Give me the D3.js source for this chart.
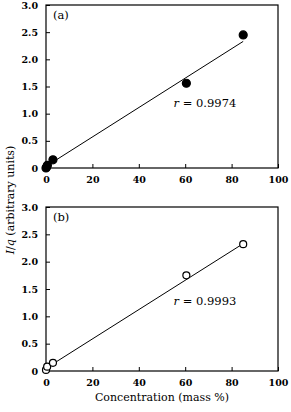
<!DOCTYPE html>
<html>
<head>
<meta charset="utf-8">
<script src="https://cdn.jsdelivr.net/npm/d3@7"></script>
<style>
  body { margin: 0; background: #fff; }
  svg text { font-family: "DejaVu Serif", serif !important; }
</style>
</head>
<body>
<script>
// panel (a) measured points and fit
const concA = [0, 0.3, 0.6, 3, 60.5, 85];
const signalA = [0, 0.02, 0.05, 0.15, 1.56, 2.45];
const fitA = [[0, 0.03], [85, 2.33]];

// panel (b)
const concB = [0, 0.5, 3, 60.5, 85];
const signalB = [0.02, 0.08, 0.15, 1.75, 2.32];
const fitB = [[0, 0.05], [85, 2.33]];

const xTicks = [0, 20, 40, 60, 80, 100];
const yTicks = [0, 0.5, 1.0, 1.5, 2.0, 2.5, 3.0];

const width = 291, height = 412;
const svg = d3.select("body").append("svg")
    .attr("width", width)
    .attr("height", height);

const panels = [
    {label: "(a)", x: concA, y: signalA, fit: fitA, r: "0.9974", top: 5, bottom: 168, filled: true},
    {label: "(b)", x: concB, y: signalB, fit: fitB, r: "0.9993", top: 207, bottom: 371, filled: false}
];

panels.forEach(function(p) {
    const x = d3.scaleLinear().domain([0, 100]).range([46, 278]);
    const y = d3.scaleLinear().domain([0, 3]).range([p.bottom, p.top]);
    const g = svg.append("g");

    // frame
    g.append("rect")
        .attr("x", x(0)).attr("y", y(3))
        .attr("width", x(100) - x(0)).attr("height", y(0) - y(3))
        .attr("fill", "none").attr("stroke", "#000").attr("stroke-width", 1.2);

    const xAxis = g.append("g")
        .attr("transform", "translate(0," + y(0) + ")")
        .call(d3.axisBottom(x).tickValues(xTicks).tickSizeInner(-4).tickSizeOuter(0).tickPadding(8).tickFormat(d3.format("d")));
    const yAxis = g.append("g")
        .attr("transform", "translate(" + x(0) + ",0)")
        .call(d3.axisLeft(y).tickValues(yTicks).tickSizeInner(-4).tickSizeOuter(0).tickPadding(8)
            .tickFormat(d => d === 0 ? "0" : d3.format(".1f")(d)));
    [xAxis, yAxis].forEach(a => {
        a.attr("font-family", null);
        a.select(".domain").remove();
        a.selectAll("line").attr("stroke", "#000");
        a.selectAll("text")
            .attr("font-weight", "bold")
            .attr("font-size", 9.5)
            .attr("fill", "#000");
    });

    // fit line
    g.append("line")
        .attr("x1", x(p.fit[0][0])).attr("y1", y(p.fit[0][1]))
        .attr("x2", x(p.fit[1][0])).attr("y2", y(p.fit[1][1]))
        .attr("stroke", "#000").attr("stroke-width", 1);

    g.selectAll("circle.pt")
        .data(p.x.map((v, i) => [v, p.y[i]]))
        .join("circle")
        .attr("class", "pt")
        .attr("cx", d => x(d[0]))
        .attr("cy", d => y(d[1]))
        .attr("r", p.filled ? 4 : 3.5)
        .attr("fill", p.filled ? "#000" : "#fff")
        .attr("stroke", "#000")
        .attr("stroke-width", 1.2);

    g.append("text")
        .attr("x", x(3)).attr("y", y(2.74))
        .attr("font-size", 11.5)
        .text(p.label);

    const rt = g.append("text")
        .attr("x", x(55)).attr("y", y(p.label === "(a)" ? 1.12 : 1.21))
        .attr("font-size", 11.5);
    rt.append("tspan").attr("font-style", "italic").text("r");
    rt.append("tspan").text(" = " + p.r);
});

// axis titles
svg.append("text")
    .attr("x", 162).attr("y", 401)
    .attr("text-anchor", "middle")
    .attr("font-size", 11)
    .text("Concentration (mass %)");

const yt = svg.append("text")
    .attr("transform", "translate(14,200) rotate(-90)")
    .attr("text-anchor", "middle")
    .attr("font-size", 11);
yt.append("tspan").attr("font-style", "italic").text("I");
yt.append("tspan").text("/");
yt.append("tspan").attr("font-style", "italic").text("q");
yt.append("tspan").text(" (arbitrary units)");
</script>
</body>
</html>
